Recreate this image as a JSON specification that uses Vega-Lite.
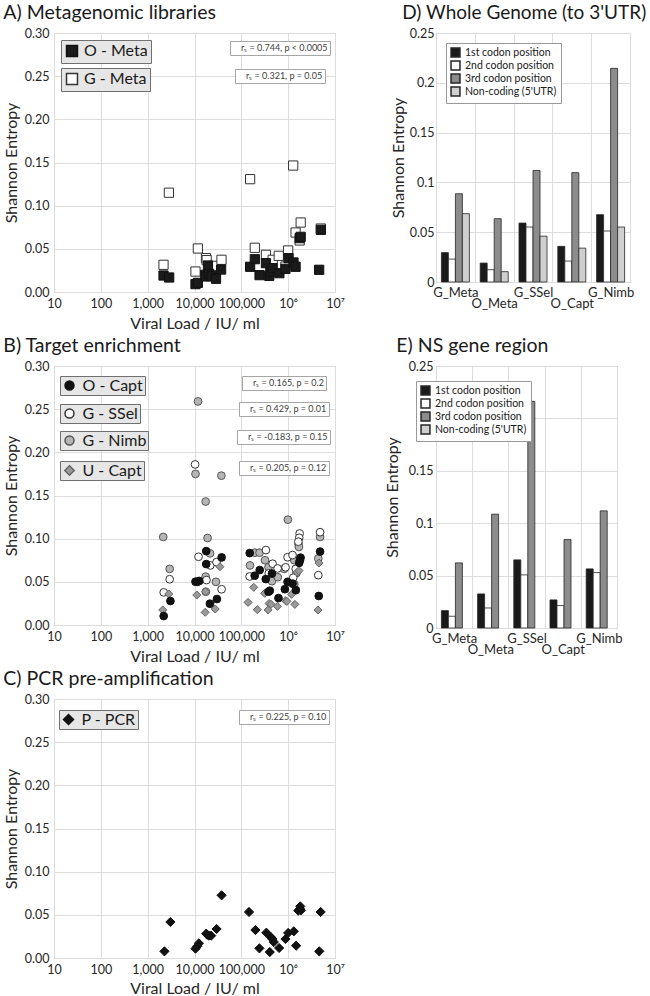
{
  "$schema": "https://vega.github.io/schema/vega-lite/v6.json",
  "padding": {"left": 2, "top": 2, "right": 0, "bottom": 0},
  "config": {
    "font": "Lato",
    "view": {"stroke": "#a6a6a6"},
    "axis": {"gridColor": "#dcdcdc", "domain": false, "tickColor": "#a6a6a6", "labelColor": "#262626", "titleColor": "#262626", "labelFontSize": 12.5, "titleFontSize": 16, "titleFontWeight": "normal", "labelFont": "Lato", "titleFont": "Lato"},
    "title": {"fontSize": 19.5, "fontWeight": "normal", "anchor": "start", "color": "#1a1a1a", "font": "Lato", "frame": "bounds", "offset": 4},
    "legend": {"labelFont": "Lato", "labelColor": "#1a1a1a"}
  },
  "datasets": {
    "meta": [
      {"s": "O", "vl": 2180, "se": 0.0191}, {"s": "O", "vl": 2880, "se": 0.0168}, {"s": "O", "vl": 10500, "se": 0.0091}, {"s": "O", "vl": 11800, "se": 0.0106},
      {"s": "O", "vl": 17000, "se": 0.0199}, {"s": "O", "vl": 19400, "se": 0.0307}, {"s": "O", "vl": 17500, "se": 0.018}, {"s": "O", "vl": 20500, "se": 0.021},
      {"s": "O", "vl": 23000, "se": 0.0183}, {"s": "O", "vl": 28800, "se": 0.0153}, {"s": "O", "vl": 37000, "se": 0.026}, {"s": "O", "vl": 154000, "se": 0.0292},
      {"s": "O", "vl": 194000, "se": 0.038}, {"s": "O", "vl": 245000, "se": 0.0195}, {"s": "O", "vl": 335000, "se": 0.0334}, {"s": "O", "vl": 395000, "se": 0.0187},
      {"s": "O", "vl": 416000, "se": 0.0237}, {"s": "O", "vl": 467000, "se": 0.0276}, {"s": "O", "vl": 650000, "se": 0.0218}, {"s": "O", "vl": 875000, "se": 0.0268},
      {"s": "O", "vl": 1020000, "se": 0.0392}, {"s": "O", "vl": 1300000, "se": 0.0342}, {"s": "O", "vl": 1440000, "se": 0.0292}, {"s": "O", "vl": 1760000, "se": 0.0624},
      {"s": "O", "vl": 1850000, "se": 0.0639}, {"s": "O", "vl": 4990000, "se": 0.072}, {"s": "O", "vl": 4590000, "se": 0.0257},
      {"s": "G", "vl": 2180, "se": 0.0315}, {"s": "G", "vl": 2840, "se": 0.115}, {"s": "G", "vl": 11800, "se": 0.0504}, {"s": "G", "vl": 10500, "se": 0.0237},
      {"s": "G", "vl": 17600, "se": 0.0392}, {"s": "G", "vl": 18200, "se": 0.0369}, {"s": "G", "vl": 29400, "se": 0.0303}, {"s": "G", "vl": 37700, "se": 0.0373},
      {"s": "G", "vl": 154000, "se": 0.1307}, {"s": "G", "vl": 194000, "se": 0.0512}, {"s": "G", "vl": 335000, "se": 0.0431}, {"s": "G", "vl": 467000, "se": 0.0373},
      {"s": "G", "vl": 629000, "se": 0.0419}, {"s": "G", "vl": 1000000, "se": 0.0481}, {"s": "G", "vl": 875000, "se": 0.0295}, {"s": "G", "vl": 1280000, "se": 0.1465},
      {"s": "G", "vl": 1440000, "se": 0.0689}, {"s": "G", "vl": 1850000, "se": 0.0805}, {"s": "G", "vl": 1760000, "se": 0.0597}, {"s": "G", "vl": 4990000, "se": 0.0735}
    ],
    "enrich": [
      {"s": "OC", "vl": 2200, "se": 0.0104}, {"s": "OC", "vl": 3060, "se": 0.0278}, {"s": "OC", "vl": 10500, "se": 0.0502}, {"s": "OC", "vl": 11500, "se": 0.05},
      {"s": "OC", "vl": 12600, "se": 0.051}, {"s": "OC", "vl": 17800, "se": 0.0856}, {"s": "OC", "vl": 17800, "se": 0.0706}, {"s": "OC", "vl": 21300, "se": 0.0247},
      {"s": "OC", "vl": 30100, "se": 0.0301}, {"s": "OC", "vl": 37900, "se": 0.0783}, {"s": "OC", "vl": 151000, "se": 0.0833}, {"s": "OC", "vl": 193000, "se": 0.0571},
      {"s": "OC", "vl": 247000, "se": 0.0637}, {"s": "OC", "vl": 332000, "se": 0.0532}, {"s": "OC", "vl": 450000, "se": 0.0596}, {"s": "OC", "vl": 380000, "se": 0.0386},
      {"s": "OC", "vl": 405000, "se": 0.0397}, {"s": "OC", "vl": 621000, "se": 0.0312}, {"s": "OC", "vl": 850000, "se": 0.0415}, {"s": "OC", "vl": 970000, "se": 0.05},
      {"s": "OC", "vl": 1240000, "se": 0.048}, {"s": "OC", "vl": 1460000, "se": 0.0404}, {"s": "OC", "vl": 1840000, "se": 0.078}, {"s": "OC", "vl": 1780000, "se": 0.075},
      {"s": "OC", "vl": 1720000, "se": 0.072}, {"s": "OC", "vl": 4800000, "se": 0.0850}, {"s": "OC", "vl": 4500000, "se": 0.0336},
      {"s": "GS", "vl": 2200, "se": 0.0378}, {"s": "GS", "vl": 2950, "se": 0.053}, {"s": "GS", "vl": 10300, "se": 0.186}, {"s": "GS", "vl": 12200, "se": 0.079},
      {"s": "GS", "vl": 18000, "se": 0.052}, {"s": "GS", "vl": 21800, "se": 0.069}, {"s": "GS", "vl": 29500, "se": 0.0728}, {"s": "GS", "vl": 37900, "se": 0.0414},
      {"s": "GS", "vl": 150000, "se": 0.0562}, {"s": "GS", "vl": 335000, "se": 0.0868}, {"s": "GS", "vl": 385000, "se": 0.0598}, {"s": "GS", "vl": 465000, "se": 0.071},
      {"s": "GS", "vl": 595000, "se": 0.0655}, {"s": "GS", "vl": 970000, "se": 0.0785}, {"s": "GS", "vl": 1240000, "se": 0.081}, {"s": "GS", "vl": 1760000, "se": 0.106},
      {"s": "GS", "vl": 1720000, "se": 0.101}, {"s": "GS", "vl": 1650000, "se": 0.0965}, {"s": "GS", "vl": 1450000, "se": 0.065}, {"s": "GS", "vl": 1280000, "se": 0.0548},
      {"s": "GS", "vl": 880000, "se": 0.0668}, {"s": "GS", "vl": 4800000, "se": 0.1075}, {"s": "GS", "vl": 4400000, "se": 0.0577},
      {"s": "GN", "vl": 2150, "se": 0.102}, {"s": "GN", "vl": 2950, "se": 0.0650}, {"s": "GN", "vl": 10500, "se": 0.175}, {"s": "GN", "vl": 11900, "se": 0.259},
      {"s": "GN", "vl": 37500, "se": 0.173}, {"s": "GN", "vl": 17300, "se": 0.143}, {"s": "GN", "vl": 19000, "se": 0.1008}, {"s": "GN", "vl": 21500, "se": 0.083},
      {"s": "GN", "vl": 17300, "se": 0.056}, {"s": "GN", "vl": 28700, "se": 0.05}, {"s": "GN", "vl": 153000, "se": 0.069}, {"s": "GN", "vl": 195000, "se": 0.0838},
      {"s": "GN", "vl": 245000, "se": 0.0838}, {"s": "GN", "vl": 320000, "se": 0.075}, {"s": "GN", "vl": 380000, "se": 0.067}, {"s": "GN", "vl": 450000, "se": 0.0508},
      {"s": "GN", "vl": 600000, "se": 0.0554}, {"s": "GN", "vl": 820000, "se": 0.065}, {"s": "GN", "vl": 985000, "se": 0.122}, {"s": "GN", "vl": 1350000, "se": 0.0473},
      {"s": "GN", "vl": 1660000, "se": 0.094}, {"s": "GN", "vl": 1700000, "se": 0.0904}, {"s": "GN", "vl": 1350000, "se": 0.075}, {"s": "GN", "vl": 1500000, "se": 0.06},
      {"s": "GN", "vl": 4800000, "se": 0.102}, {"s": "GN", "vl": 4400000, "se": 0.077}, {"s": "GN", "vl": 17500, "se": 0.0385},
      {"s": "UC", "vl": 2100, "se": 0.0174}, {"s": "UC", "vl": 2820, "se": 0.0359}, {"s": "UC", "vl": 11200, "se": 0.0347}, {"s": "UC", "vl": 17200, "se": 0.0386},
      {"s": "UC", "vl": 16900, "se": 0.0147}, {"s": "UC", "vl": 21700, "se": 0.0243}, {"s": "UC", "vl": 27700, "se": 0.0185}, {"s": "UC", "vl": 34900, "se": 0.0675},
      {"s": "UC", "vl": 139000, "se": 0.0262}, {"s": "UC", "vl": 184000, "se": 0.0436}, {"s": "UC", "vl": 220000, "se": 0.0177}, {"s": "UC", "vl": 316000, "se": 0.0367},
      {"s": "UC", "vl": 373000, "se": 0.0174}, {"s": "UC", "vl": 392000, "se": 0.025}, {"s": "UC", "vl": 430000, "se": 0.024}, {"s": "UC", "vl": 590000, "se": 0.0216},
      {"s": "UC", "vl": 877000, "se": 0.0282}, {"s": "UC", "vl": 940000, "se": 0.0274}, {"s": "UC", "vl": 1180000, "se": 0.0355}, {"s": "UC", "vl": 1390000, "se": 0.0239},
      {"s": "UC", "vl": 1560000, "se": 0.061}, {"s": "UC", "vl": 1700000, "se": 0.063}, {"s": "UC", "vl": 4540000, "se": 0.0718}, {"s": "UC", "vl": 4330000, "se": 0.0174}
    ],
    "pcr": [
      {"vl": 2280, "se": 0.0077}, {"vl": 3060, "se": 0.0417}, {"vl": 10500, "se": 0.0108}, {"vl": 11400, "se": 0.0135}, {"vl": 12400, "se": 0.017},
      {"vl": 17800, "se": 0.0282}, {"vl": 18700, "se": 0.027}, {"vl": 20300, "se": 0.0259}, {"vl": 22700, "se": 0.0259}, {"vl": 29600, "se": 0.0336},
      {"vl": 37900, "se": 0.0726}, {"vl": 146000, "se": 0.0533}, {"vl": 200000, "se": 0.0324}, {"vl": 243000, "se": 0.0112}, {"vl": 343000, "se": 0.0293},
      {"vl": 432000, "se": 0.0239}, {"vl": 405000, "se": 0.0069}, {"vl": 493000, "se": 0.0185}, {"vl": 460000, "se": 0.022}, {"vl": 641000, "se": 0.0116},
      {"vl": 877000, "se": 0.022}, {"vl": 1000000, "se": 0.029}, {"vl": 1320000, "se": 0.0309}, {"vl": 1480000, "se": 0.0143}, {"vl": 1640000, "se": 0.0548},
      {"vl": 1810000, "se": 0.0598}, {"vl": 1870000, "se": 0.0552}, {"vl": 1780000, "se": 0.057}, {"vl": 4930000, "se": 0.0533}, {"vl": 4610000, "se": 0.0077}
    ],
    "wg": [
      {"g": "G_Meta", "p": "1st codon position", "se": 0.0295}, {"g": "G_Meta", "p": "2nd codon position", "se": 0.023}, {"g": "G_Meta", "p": "3rd codon position", "se": 0.0886}, {"g": "G_Meta", "p": "Non-coding (5'UTR)", "se": 0.0686},
      {"g": "O_Meta", "p": "1st codon position", "se": 0.019}, {"g": "O_Meta", "p": "2nd codon position", "se": 0.0124}, {"g": "O_Meta", "p": "3rd codon position", "se": 0.0636}, {"g": "O_Meta", "p": "Non-coding (5'UTR)", "se": 0.0104},
      {"g": "G_SSel", "p": "1st codon position", "se": 0.0592}, {"g": "G_SSel", "p": "2nd codon position", "se": 0.0552}, {"g": "G_SSel", "p": "3rd codon position", "se": 0.112}, {"g": "G_SSel", "p": "Non-coding (5'UTR)", "se": 0.046},
      {"g": "O_Capt", "p": "1st codon position", "se": 0.0358}, {"g": "O_Capt", "p": "2nd codon position", "se": 0.021}, {"g": "O_Capt", "p": "3rd codon position", "se": 0.1098}, {"g": "O_Capt", "p": "Non-coding (5'UTR)", "se": 0.034},
      {"g": "G_Nimb", "p": "1st codon position", "se": 0.0676}, {"g": "G_Nimb", "p": "2nd codon position", "se": 0.0512}, {"g": "G_Nimb", "p": "3rd codon position", "se": 0.2145}, {"g": "G_Nimb", "p": "Non-coding (5'UTR)", "se": 0.0552}
    ],
    "ns": [
      {"g": "G_Meta", "p": "1st codon position", "se": 0.0166}, {"g": "G_Meta", "p": "2nd codon position", "se": 0.0112}, {"g": "G_Meta", "p": "3rd codon position", "se": 0.0621},
      {"g": "O_Meta", "p": "1st codon position", "se": 0.0325}, {"g": "O_Meta", "p": "2nd codon position", "se": 0.0191}, {"g": "O_Meta", "p": "3rd codon position", "se": 0.1086},
      {"g": "G_SSel", "p": "1st codon position", "se": 0.065}, {"g": "G_SSel", "p": "2nd codon position", "se": 0.0507}, {"g": "G_SSel", "p": "3rd codon position", "se": 0.2163},
      {"g": "O_Capt", "p": "1st codon position", "se": 0.0268}, {"g": "O_Capt", "p": "2nd codon position", "se": 0.0214}, {"g": "O_Capt", "p": "3rd codon position", "se": 0.0844},
      {"g": "G_Nimb", "p": "1st codon position", "se": 0.0564}, {"g": "G_Nimb", "p": "2nd codon position", "se": 0.0529}, {"g": "G_Nimb", "p": "3rd codon position", "se": 0.1118}
    ]
  },
  "columns": 2,
  "align": "each",
  "bounds": "full",
  "spacing": {"row": 3, "column": 38},
  "resolve": {
    "scale": {"color": "independent", "shape": "independent", "fill": "independent"},
    "legend": {"color": "independent", "shape": "independent", "fill": "independent"}
  },
  "concat": [
    {
      "title": "A) Metagenomic libraries",
      "width": 281, "height": 259,
      "data": {"name": "meta"},
      "layer": [
        {
          "transform": [{"filter": "datum.s == 'G'"}],
          "mark": {"type": "point", "filled": true, "size": 85, "stroke": "#333333", "strokeWidth": 1, "opacity": 1},
          "encoding": {
            "x": {"field": "vl", "type": "quantitative", "scale": {"type": "log", "domain": [10, 10000000], "nice": false}, "axis": {"title": "Viral Load / IU/ ml", "values": [10, 100, 1000, 10000, 100000, 1000000, 10000000], "labelExpr": "datum.value >= 10000000 ? '10⁷' : datum.value >= 1000000 ? '10⁶' : format(datum.value, ',')", "grid": true, "ticks": false, "labelPadding": 5, "titlePadding": 6, "labelFlush": false, "labelOverlap": false}},
            "y": {"field": "se", "type": "quantitative", "scale": {"domain": [0, 0.3], "nice": false}, "axis": {"title": "Shannon Entropy", "values": [0, 0.05, 0.1, 0.15, 0.2, 0.25, 0.3], "format": ".2f", "ticks": false, "labelPadding": 5, "titlePadding": 5}},
            "color": {"datum": "G - Meta", "scale": {"range": ["#ffffff"]}, "legend": {"orient": "none", "legendX": 7, "legendY": 35, "title": null, "fillColor": "#e6e6e6", "strokeColor": "#707070", "padding": 3, "labelFontSize": 16, "symbolType": "square", "symbolSize": 120, "labelOffset": 4}},
            "shape": {"datum": "rₛ = 0.321, p = 0.05", "scale": {"range": ["square"]}, "legend": {"orient": "none", "legendX": 181, "legendY": 36, "title": null, "fillColor": "#ffffff", "strokeColor": "#a6a6a6", "padding": 2, "labelFontSize": 9, "symbolSize": 0, "symbolOpacity": 0, "labelOffset": 0, "labelColor": "#404040"}}
          }
        },
        {
          "transform": [{"filter": "datum.s == 'O'"}],
          "mark": {"type": "point", "filled": true, "size": 85, "stroke": "#111111", "strokeWidth": 1, "opacity": 1},
          "encoding": {
            "x": {"field": "vl", "type": "quantitative", "scale": {"type": "log", "domain": [10, 10000000], "nice": false}},
            "y": {"field": "se", "type": "quantitative", "scale": {"domain": [0, 0.3], "nice": false}},
            "color": {"datum": "O - Meta", "scale": {"range": ["#1a1a1a"]}, "legend": {"orient": "none", "legendX": 7, "legendY": 7, "title": null, "fillColor": "#e6e6e6", "strokeColor": "#707070", "padding": 3, "labelFontSize": 16, "symbolType": "square", "symbolSize": 120, "labelOffset": 4}},
            "shape": {"datum": "rₛ = 0.744, p < 0.0005", "scale": {"range": ["square"]}, "legend": {"orient": "none", "legendX": 176, "legendY": 8, "title": null, "fillColor": "#ffffff", "strokeColor": "#a6a6a6", "padding": 2, "labelFontSize": 9, "symbolSize": 0, "symbolOpacity": 0, "labelOffset": 0, "labelColor": "#404040"}}
          }
        }
      ],
      "resolve": {"scale": {"color": "independent", "shape": "independent"}}
    },
    {
      "title": {"text": "D) Whole Genome (to 3'UTR)", "dx": 12, "fontSize": 19},
      "width": 194, "height": 249,
      "data": {"name": "wg"},
      "mark": {"type": "bar", "stroke": "#262626", "strokeWidth": 0.8},
      "encoding": {
        "x": {"field": "g", "type": "nominal", "sort": ["G_Meta", "O_Meta", "G_SSel", "O_Capt", "G_Nimb"], "scale": {"paddingInner": 0, "paddingOuter": 0}, "axis": {"title": null, "grid": true, "tickBand": "extent", "ticks": false, "labelAngle": 0, "labelFontSize": 13, "labelLineHeight": 11, "labelPadding": 4, "labelExpr": "indexof(['O_Meta','O_Capt'], datum.value) >= 0 ? ['', datum.label] : datum.label"}},
        "xOffset": {"field": "p", "type": "nominal", "sort": ["1st codon position", "2nd codon position", "3rd codon position", "Non-coding (5'UTR)"], "scale": {"paddingInner": 0, "paddingOuter": 0.77}},
        "y": {"field": "se", "type": "quantitative", "scale": {"domain": [0, 0.25], "nice": false}, "axis": {"title": "Shannon Entropy", "values": [0, 0.05, 0.1, 0.15, 0.2, 0.25], "format": ".2~f", "ticks": false, "labelPadding": 2, "titlePadding": 3}},
        "fill": {"field": "p", "type": "nominal", "scale": {"domain": ["1st codon position", "2nd codon position", "3rd codon position", "Non-coding (5'UTR)"], "range": ["#1a1a1a", "#ffffff", "#8c8c8c", "#cfcfcf"]}, "legend": {"orient": "none", "legendX": 10, "legendY": 10, "title": null, "fillColor": "#ffffff", "strokeColor": "#999999", "padding": 4, "labelFontSize": 10.5, "symbolType": "square", "symbolSize": 80, "rowPadding": -3.5, "labelOffset": 4}}
      }
    },
    {
      "title": "B) Target enrichment",
      "width": 281, "height": 259,
      "data": {"name": "enrich"},
      "layer": [
        {
          "transform": [{"filter": "datum.s == 'GN'"}],
          "mark": {"type": "point", "filled": true, "size": 60, "stroke": "#555555", "strokeWidth": 1, "opacity": 1},
          "encoding": {
            "x": {"field": "vl", "type": "quantitative", "scale": {"type": "log", "domain": [10, 10000000], "nice": false}, "axis": {"title": "Viral Load / IU/ ml", "values": [10, 100, 1000, 10000, 100000, 1000000, 10000000], "labelExpr": "datum.value >= 10000000 ? '10⁷' : datum.value >= 1000000 ? '10⁶' : format(datum.value, ',')", "grid": true, "ticks": false, "labelPadding": 5, "titlePadding": 6, "labelFlush": false, "labelOverlap": false}},
            "y": {"field": "se", "type": "quantitative", "scale": {"domain": [0, 0.3], "nice": false}, "axis": {"title": "Shannon Entropy", "values": [0, 0.05, 0.1, 0.15, 0.2, 0.25, 0.3], "format": ".2f", "ticks": false, "labelPadding": 5, "titlePadding": 5}},
            "color": {"datum": "G - Nimb", "scale": {"range": ["#b5b5b5"]}, "legend": {"orient": "none", "legendX": 6, "legendY": 65, "title": null, "fillColor": "#e6e6e6", "strokeColor": "#707070", "padding": 1.5, "labelFontSize": 16, "symbolType": "circle", "symbolSize": 80, "labelOffset": 5}},
            "shape": {"datum": "rₛ = -0.183, p = 0.15", "scale": {"range": ["circle"]}, "legend": {"orient": "none", "legendX": 183, "legendY": 64, "title": null, "fillColor": "#ffffff", "strokeColor": "#a6a6a6", "padding": 2, "labelFontSize": 9, "symbolSize": 0, "symbolOpacity": 0, "labelOffset": 0, "labelColor": "#404040"}}
          }
        },
        {
          "transform": [{"filter": "datum.s == 'GS'"}],
          "mark": {"type": "point", "filled": true, "size": 60, "stroke": "#333333", "strokeWidth": 1, "opacity": 1},
          "encoding": {
            "x": {"field": "vl", "type": "quantitative", "scale": {"type": "log", "domain": [10, 10000000], "nice": false}},
            "y": {"field": "se", "type": "quantitative", "scale": {"domain": [0, 0.3], "nice": false}},
            "color": {"datum": "G - SSel", "scale": {"range": ["#ffffff"]}, "legend": {"orient": "none", "legendX": 6, "legendY": 38, "title": null, "fillColor": "#e6e6e6", "strokeColor": "#707070", "padding": 1.5, "labelFontSize": 16, "symbolType": "circle", "symbolSize": 80, "labelOffset": 5}},
            "shape": {"datum": "rₛ = 0.429, p = 0.01", "scale": {"range": ["circle"]}, "legend": {"orient": "none", "legendX": 185, "legendY": 36, "title": null, "fillColor": "#ffffff", "strokeColor": "#a6a6a6", "padding": 2, "labelFontSize": 9, "symbolSize": 0, "symbolOpacity": 0, "labelOffset": 0, "labelColor": "#404040"}}
          }
        },
        {
          "transform": [{"filter": "datum.s == 'UC'"}],
          "mark": {"type": "point", "filled": true, "size": 65, "stroke": "#666666", "strokeWidth": 1, "opacity": 1},
          "encoding": {
            "x": {"field": "vl", "type": "quantitative", "scale": {"type": "log", "domain": [10, 10000000], "nice": false}},
            "y": {"field": "se", "type": "quantitative", "scale": {"domain": [0, 0.3], "nice": false}},
            "color": {"datum": "U - Capt", "scale": {"range": ["#999999"]}, "legend": {"orient": "none", "legendX": 6, "legendY": 95, "title": null, "fillColor": "#e6e6e6", "strokeColor": "#707070", "padding": 1.5, "labelFontSize": 16, "symbolType": "diamond", "symbolSize": 90, "labelOffset": 5}},
            "shape": {"datum": "rₛ = 0.205, p = 0.12", "scale": {"range": ["diamond"]}, "legend": {"orient": "none", "legendX": 185, "legendY": 95, "title": null, "fillColor": "#ffffff", "strokeColor": "#a6a6a6", "padding": 2, "labelFontSize": 9, "symbolSize": 0, "symbolOpacity": 0, "labelOffset": 0, "labelColor": "#404040"}}
          }
        },
        {
          "transform": [{"filter": "datum.s == 'OC'"}],
          "mark": {"type": "point", "filled": true, "size": 60, "stroke": "#111111", "strokeWidth": 1, "opacity": 1},
          "encoding": {
            "x": {"field": "vl", "type": "quantitative", "scale": {"type": "log", "domain": [10, 10000000], "nice": false}},
            "y": {"field": "se", "type": "quantitative", "scale": {"domain": [0, 0.3], "nice": false}},
            "color": {"datum": "O - Capt", "scale": {"range": ["#111111"]}, "legend": {"orient": "none", "legendX": 6, "legendY": 10, "title": null, "fillColor": "#e6e6e6", "strokeColor": "#707070", "padding": 1.5, "labelFontSize": 16, "symbolType": "circle", "symbolSize": 80, "labelOffset": 5}},
            "shape": {"datum": "rₛ = 0.165, p = 0.2", "scale": {"range": ["circle"]}, "legend": {"orient": "none", "legendX": 188, "legendY": 10, "title": null, "fillColor": "#ffffff", "strokeColor": "#a6a6a6", "padding": 2, "labelFontSize": 9, "symbolSize": 0, "symbolOpacity": 0, "labelOffset": 0, "labelColor": "#404040"}}
          }
        }
      ],
      "resolve": {"scale": {"color": "independent", "shape": "independent"}}
    },
    {
      "title": {"text": "E) NS gene region", "dx": 12},
      "width": 181, "height": 262,
      "data": {"name": "ns"},
      "mark": {"type": "bar", "stroke": "#262626", "strokeWidth": 0.8},
      "encoding": {
        "x": {"field": "g", "type": "nominal", "sort": ["G_Meta", "O_Meta", "G_SSel", "O_Capt", "G_Nimb"], "scale": {"paddingInner": 0, "paddingOuter": 0}, "axis": {"title": null, "grid": true, "tickBand": "extent", "ticks": false, "labelAngle": 0, "labelFontSize": 13, "labelLineHeight": 11, "labelPadding": 4, "labelExpr": "indexof(['O_Meta','O_Capt'], datum.value) >= 0 ? ['', datum.label] : datum.label"}},
        "xOffset": {"field": "p", "type": "nominal", "sort": ["1st codon position", "2nd codon position", "3rd codon position"], "scale": {"paddingInner": 0, "paddingOuter": 0.75}},
        "y": {"field": "se", "type": "quantitative", "scale": {"domain": [0, 0.25], "nice": false}, "axis": {"title": "Shannon Entropy", "values": [0, 0.05, 0.1, 0.15, 0.2, 0.25], "format": ".2~f", "ticks": false, "labelPadding": 3, "titlePadding": 8}},
        "fill": {"field": "p", "type": "nominal", "scale": {"domain": ["1st codon position", "2nd codon position", "3rd codon position", "Non-coding (5'UTR)"], "range": ["#1a1a1a", "#ffffff", "#8c8c8c", "#cfcfcf"]}, "legend": {"orient": "none", "legendX": -20, "legendY": 15, "title": null, "fillColor": "#ffffff", "strokeColor": "#999999", "padding": 4, "labelFontSize": 10.5, "symbolType": "square", "symbolSize": 80, "rowPadding": -3.5, "labelOffset": 4}}
      }
    },
    {
      "title": "C) PCR pre-amplification",
      "width": 281, "height": 259,
      "data": {"name": "pcr"},
      "mark": {"type": "point", "filled": true, "size": 85, "stroke": "#111111", "strokeWidth": 1, "opacity": 1},
      "encoding": {
        "x": {"field": "vl", "type": "quantitative", "scale": {"type": "log", "domain": [10, 10000000], "nice": false}, "axis": {"title": "Viral Load / IU/ ml", "values": [10, 100, 1000, 10000, 100000, 1000000, 10000000], "labelExpr": "datum.value >= 10000000 ? '10⁷' : datum.value >= 1000000 ? '10⁶' : format(datum.value, ',')", "grid": true, "ticks": false, "labelPadding": 5, "titlePadding": 5, "labelFlush": false, "labelOverlap": false}},
        "y": {"field": "se", "type": "quantitative", "scale": {"domain": [0, 0.3], "nice": false}, "axis": {"title": "Shannon Entropy", "values": [0, 0.05, 0.1, 0.15, 0.2, 0.25, 0.3], "format": ".2f", "ticks": false, "labelPadding": 5, "titlePadding": 5}},
        "color": {"datum": "P - PCR", "scale": {"range": ["#111111"]}, "legend": {"orient": "none", "legendX": 5, "legendY": 11, "title": null, "fillColor": "#e6e6e6", "strokeColor": "#707070", "padding": 1.5, "labelFontSize": 16, "symbolType": "diamond", "symbolSize": 100, "labelOffset": 5}},
        "shape": {"datum": "rₛ = 0.225, p = 0.10", "scale": {"range": ["diamond"]}, "legend": {"orient": "none", "legendX": 185, "legendY": 11, "title": null, "fillColor": "#ffffff", "strokeColor": "#a6a6a6", "padding": 2, "labelFontSize": 9, "symbolSize": 0, "symbolOpacity": 0, "labelOffset": 0, "labelColor": "#404040"}}
      }
    }
  ]
}
